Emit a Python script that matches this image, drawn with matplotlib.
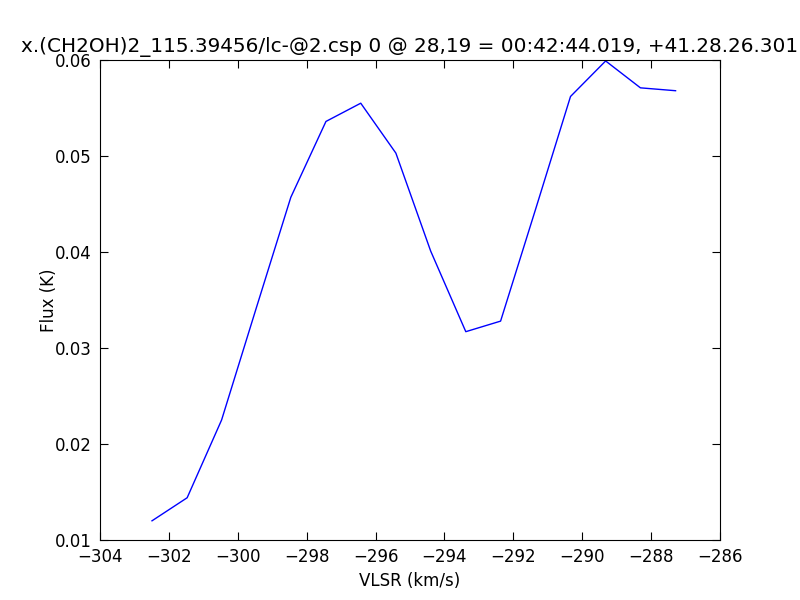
import matplotlib
matplotlib.use('Agg')
import matplotlib.pyplot as plt

vlsr = [-302.49, -301.47, -300.47, -299.46, -298.46, -297.44, -296.43, -295.41,
        -294.40, -293.38, -292.37, -291.35, -290.34, -289.32, -288.31, -287.29]
flux = [0.0120, 0.0144, 0.0225, 0.0342, 0.0457, 0.0536, 0.0555, 0.0503,
        0.0401, 0.0317, 0.0328, 0.0445, 0.0562, 0.0599, 0.0571, 0.0568]

title = 'x.(CH2OH)2_115.39456/lc-@2.csp 0 @ 28,19 = 00:42:44.019, +41.28.26.301'

plt.rcParams['font.size'] = 12
plt.rcParams['xtick.direction'] = 'in'
plt.rcParams['ytick.direction'] = 'in'
plt.rcParams['xtick.top'] = True
plt.rcParams['ytick.right'] = True

fig = plt.figure(figsize=(8, 6), dpi=100)
ax = fig.add_axes([0.125, 0.1, 0.775, 0.8])
ax.plot(vlsr, flux, color='b', linewidth=1)
ax.set_xlim(-304, -286)
ax.set_ylim(0.01, 0.06)
ax.set_xticks(range(-304, -285, 2))
ax.set_yticks([0.01, 0.02, 0.03, 0.04, 0.05, 0.06])
ax.tick_params(length=6, width=0.8, pad=6)
ax.set_xlabel('VLSR (km/s)')
ax.set_ylabel('Flux (K)', labelpad=-2)
ax.set_title(title, fontsize=14.4)

fig.savefig('out.png', dpi=100)
